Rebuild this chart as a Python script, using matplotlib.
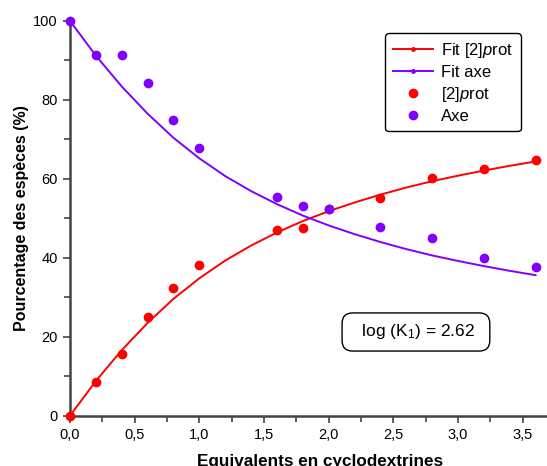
import matplotlib.pyplot as plt
from matplotlib.lines import Line2D
from matplotlib.ticker import MultipleLocator, FuncFormatter

plt.rcParams['font.family'] = ['Liberation Sans', 'DejaVu Sans']
plt.rcParams['mathtext.fontset'] = 'custom'
plt.rcParams['mathtext.rm'] = 'Liberation Sans'
plt.rcParams['mathtext.it'] = 'Liberation Sans:italic'

# Measured points
eq = [0.0, 0.2, 0.4, 0.6, 0.8, 1.0, 1.6, 1.8, 2.0, 2.4, 2.8, 3.2, 3.6]
prot = [0.0, 8.6, 15.7, 25.1, 32.3, 38.3, 47.1, 47.6, 52.4, 55.2, 60.1, 62.5, 64.7]
axe = [100.0, 91.3, 91.3, 84.4, 75.0, 67.7, 55.3, 53.0, 52.4, 47.7, 45.0, 40.0, 37.7]

# Fit curves
fit_x = [0.0, 0.2, 0.4, 0.6, 0.8, 1.0, 1.2, 1.4, 1.6, 1.8, 2.0, 2.2, 2.4, 2.6,
         2.8, 3.0, 3.2, 3.4, 3.6]
fit_prot = [0.0, 8.8, 16.6, 23.5, 29.6, 34.8, 39.3, 43.1, 46.4, 49.3, 51.8,
            54.0, 56.0, 57.8, 59.4, 60.8, 62.1, 63.3, 64.4]
fit_axe = [100.0 - v for v in fit_prot]

red = '#ff0000'
purple = '#7f00ff'

fig = plt.figure(figsize=(5.47, 4.66), dpi=100)
ax = fig.add_axes([0.128, 0.108, 0.87, 0.847])

ax.plot(fit_x, fit_prot, color=red, lw=1.4, clip_on=False)
ax.plot(fit_x, fit_axe, color=purple, lw=1.4, clip_on=False)
ax.plot(eq, prot, 'o', color=red, ms=7, mec='none', clip_on=False, zorder=3)
ax.plot(eq, axe, 'o', color=purple, ms=7, mec='none', clip_on=False, zorder=3)

ax.set_xlim(0, 3.68)
ax.set_ylim(0, 100)
ax.xaxis.set_major_locator(MultipleLocator(0.5))
ax.xaxis.set_minor_locator(MultipleLocator(0.25))
ax.yaxis.set_major_locator(MultipleLocator(20))
ax.yaxis.set_minor_locator(MultipleLocator(10))
ax.xaxis.set_major_formatter(FuncFormatter(lambda v, p: f"{v:.1f}".replace('.', ',')))

for s in ['top', 'right']:
    ax.spines[s].set_visible(False)
for s in ['left', 'bottom']:
    ax.spines[s].set_color('#444444')
    ax.spines[s].set_linewidth(1.8)
ax.tick_params(which='both', direction='out', color='#444444', width=1.2,
               labelsize=10.5, pad=4)
ax.tick_params(which='major', length=5)
ax.tick_params(which='minor', length=4)

ax.set_xlabel('Equivalents en cyclodextrines', fontsize=12.3, fontweight='bold')
ax.xaxis.set_label_coords(0.525, -0.097)
ax.set_ylabel('Pourcentage des espèces (%)', fontsize=11.5, fontweight='bold',
              labelpad=3)

handles = [
    Line2D([], [], color=red, lw=1.4, marker='o', ms=2.5),
    Line2D([], [], color=purple, lw=1.4, marker='o', ms=2.5),
    Line2D([], [], color=red, ls='none', marker='o', ms=7, mec='none'),
    Line2D([], [], color=purple, ls='none', marker='o', ms=7, mec='none'),
]
labels = ['Fit [2]$\\it{p}$rot', 'Fit axe', '[2]$\\it{p}$rot', 'Axe']
leg = ax.legend(handles, labels, loc='upper left', bbox_to_anchor=(0.645, 0.99),
                fontsize=12, numpoints=1, handlelength=2.4, handletextpad=0.5,
                labelspacing=0.3, borderpad=0.45, fancybox=True, framealpha=1)
leg.get_frame().set_edgecolor('black')
leg.get_frame().set_linewidth(1.0)

ax.text(2.675, 21.2, '  log (K$_1$) = 2.62  ', fontsize=12.5, ha='center',
        va='center',
        bbox=dict(boxstyle='round,pad=0.55,rounding_size=0.6', fc='white',
                  ec='black', lw=1.0))

fig.savefig('out.png', dpi=100)
